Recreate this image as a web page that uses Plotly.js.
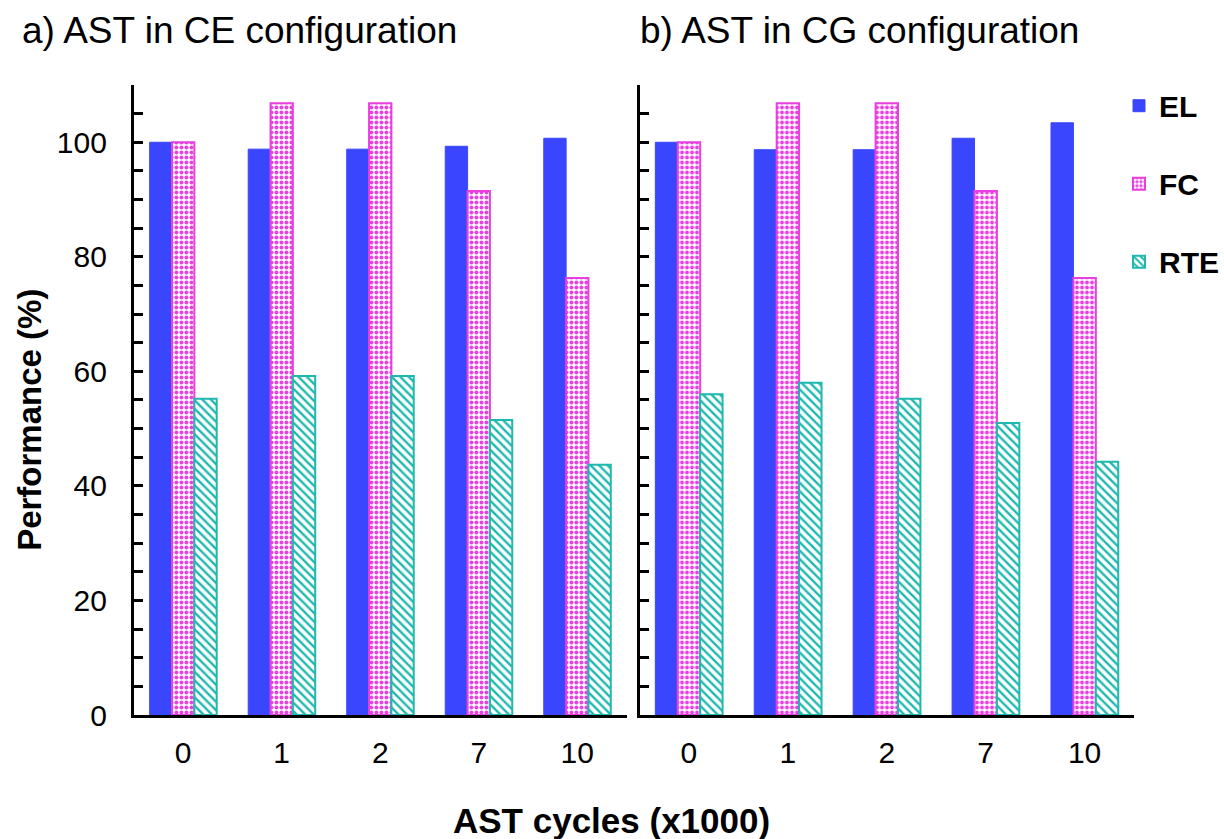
<!DOCTYPE html>
<html>
<head>
<meta charset="utf-8">
<script src="https://cdn.plot.ly/plotly-3.0.1.min.js"></script>
<style>html,body{margin:0;padding:0;background:#fff;} #chart{width:1224px;height:839px;}</style>
</head>
<body>
<div id="chart"></div>
<script>
// ---- data ----
const categories = ["0", "1", "2", "7", "10"];
const seriesNames = ["EL", "FC", "RTE"];
const ceEL  = [100, 98.8, 98.8, 99.3, 100.7];
const ceFC  = [100, 106.8, 106.8, 91.5, 76.3];
const ceRTE = [55.2, 59.2, 59.2, 51.5, 43.7];
const cgEL  = [100, 98.7, 98.7, 100.7, 103.4];
const cgFC  = [100, 106.8, 106.8, 91.5, 76.3];
const cgRTE = [56.0, 58.0, 55.2, 51.0, 44.2];
const panelTitles = ["a) AST in CE configuration", "b) AST in CG configuration"];
const xTitle = "AST cycles (x1000)";
const yTitle = "Performance (%)";
const yTickVals = [0, 20, 40, 60, 80, 100];

// ---- styles ----
const FONT = "Liberation Sans, Arial, sans-serif";
const BLUE = "#3a46fd";
const MAG = "#e93fe0";
const TEAL = "#1fb8ae";

function styleFor(i) {
  if (i === 0) return {color: BLUE, line: {color: BLUE, width: 1}};
  if (i === 1) return {color: "#ffffff", line: {color: MAG, width: 2},
    pattern: {shape: ".", fgcolor: MAG, bgcolor: "#ffffff", size: 5, solidity: 0.5, fillmode: "replace"}};
  return {color: "#ffffff", line: {color: TEAL, width: 2},
    pattern: {shape: "\\", fgcolor: TEAL, bgcolor: "#ffffff", size: 6, solidity: 0.4, fillmode: "replace"}};
}

const panels = [[ceEL, ceFC, ceRTE], [cgEL, cgFC, cgRTE]];
const traces = [];
panels.forEach((set, p) => {
  set.forEach((vals, i) => {
    traces.push({
      type: "bar",
      x: categories,
      y: vals,
      name: seriesNames[i],
      legendgroup: seriesNames[i],
      showlegend: p === 0,
      xaxis: p === 0 ? "x" : "x2",
      yaxis: p === 0 ? "y" : "y2",
      marker: styleFor(i),
      hoverinfo: "x+y+name"
    });
  });
});

function yaxis(showLabels, anchor) {
  return {
    domain: [0.1478, 0.8987],
    range: [0, 110],
    anchor: anchor,
    tickmode: "array",
    tickvals: yTickVals,
    ticks: "inside",
    ticklen: 9,
    tickwidth: 3,
    tickcolor: "#000",
    minor: {dtick: 5, ticks: "inside", ticklen: 9, tickwidth: 3, tickcolor: "#000"},
    showticklabels: showLabels,
    ticklabelstandoff: 18,
    tickfont: {family: FONT, size: 30, color: "#000"},
    showline: true, linecolor: "#000", linewidth: 3,
    showgrid: false, zeroline: false, fixedrange: true
  };
}
function xaxis(domain, anchor) {
  return {
    domain: domain,
    anchor: anchor,
    type: "category",
    range: [-0.5, 4.5],
    ticks: "",
    ticklabelstandoff: 9,
    tickfont: {family: FONT, size: 30, color: "#000"},
    showline: true, linecolor: "#000", linewidth: 3,
    showgrid: false, zeroline: false, fixedrange: true
  };
}

const layout = {
  width: 1224, height: 839,
  margin: {l: 0, r: 0, t: 0, b: 0},
  paper_bgcolor: "#fff", plot_bgcolor: "rgba(0,0,0,0)",
  font: {family: FONT, color: "#000"},
  barmode: "group",
  bargap: 0.32,
  bargroupgap: 0,
  xaxis: xaxis([0.1095, 0.5123], "y"),
  yaxis: yaxis(true, "x"),
  xaxis2: xaxis([0.5229, 0.9273], "y2"),
  yaxis2: yaxis(false, "x2"),
  showlegend: true,
  legend: {
    x: 0.915, y: 0.905, xanchor: "left", yanchor: "top",
    font: {family: FONT, size: 30, color: "#000", weight: "bold"},
    tracegroupgap: 36,
    bgcolor: "rgba(0,0,0,0)",
    itemwidth: 30
  },
  annotations: [
    {text: panelTitles[0], xref: "paper", yref: "paper", x: 0.016, y: 0.964, xanchor: "left", yanchor: "middle",
     showarrow: false, font: {family: FONT, size: 37, color: "#000"}},
    {text: panelTitles[1], xref: "paper", yref: "paper", x: 0.522, y: 0.964, xanchor: "left", yanchor: "middle",
     showarrow: false, font: {family: FONT, size: 37, color: "#000"}},
    {text: "<b>" + yTitle + "</b>", xref: "paper", yref: "paper", x: 0.024, y: 0.5, xanchor: "center", yanchor: "middle",
     textangle: -90, showarrow: false, font: {family: FONT, size: 33, color: "#000"}},
    {text: "<b>" + xTitle + "</b>", xref: "paper", yref: "paper", x: 0.5, y: 0.022, xanchor: "center", yanchor: "middle",
     showarrow: false, font: {family: FONT, size: 35, color: "#000"}}
  ]
};

Plotly.newPlot("chart", traces, layout, {displayModeBar: false, staticPlot: true});
</script>
</body>
</html>
